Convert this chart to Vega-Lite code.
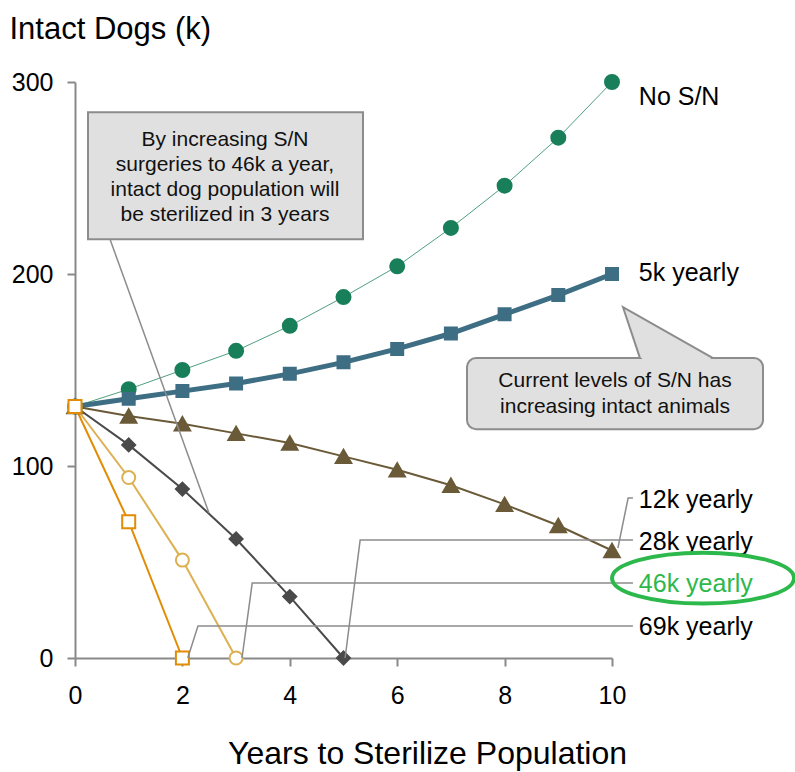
{
  "$schema": "https://vega.github.io/schema/vega-lite/v6.json",
  "width": 537,
  "height": 576,
  "autosize": {"type": "none"},
  "padding": {"left": 75, "top": 82, "right": 183, "bottom": 114},
  "background": "white",
  "config": {"view": {"stroke": null}, "font": "Liberation Sans"},
  "datasets": {
    "series": [
      {"s": "No S/N", "x": 0, "y": 131}, {"s": "No S/N", "x": 1, "y": 140}, {"s": "No S/N", "x": 2, "y": 150}, {"s": "No S/N", "x": 3, "y": 160}, {"s": "No S/N", "x": 4, "y": 173}, {"s": "No S/N", "x": 5, "y": 188}, {"s": "No S/N", "x": 6, "y": 204}, {"s": "No S/N", "x": 7, "y": 224}, {"s": "No S/N", "x": 8, "y": 246}, {"s": "No S/N", "x": 9, "y": 271}, {"s": "No S/N", "x": 10, "y": 300},
      {"s": "5k yearly", "x": 0, "y": 131}, {"s": "5k yearly", "x": 1, "y": 135}, {"s": "5k yearly", "x": 2, "y": 139}, {"s": "5k yearly", "x": 3, "y": 143}, {"s": "5k yearly", "x": 4, "y": 148}, {"s": "5k yearly", "x": 5, "y": 154}, {"s": "5k yearly", "x": 6, "y": 161}, {"s": "5k yearly", "x": 7, "y": 169}, {"s": "5k yearly", "x": 8, "y": 179}, {"s": "5k yearly", "x": 9, "y": 189}, {"s": "5k yearly", "x": 10, "y": 200},
      {"s": "12k yearly", "x": 0, "y": 131}, {"s": "12k yearly", "x": 1, "y": 126}, {"s": "12k yearly", "x": 2, "y": 122}, {"s": "12k yearly", "x": 3, "y": 117}, {"s": "12k yearly", "x": 4, "y": 112}, {"s": "12k yearly", "x": 5, "y": 105}, {"s": "12k yearly", "x": 6, "y": 98}, {"s": "12k yearly", "x": 7, "y": 90}, {"s": "12k yearly", "x": 8, "y": 80}, {"s": "12k yearly", "x": 9, "y": 69}, {"s": "12k yearly", "x": 10, "y": 56},
      {"s": "28k yearly", "x": 0, "y": 131}, {"s": "28k yearly", "x": 1, "y": 111}, {"s": "28k yearly", "x": 2, "y": 88}, {"s": "28k yearly", "x": 3, "y": 62}, {"s": "28k yearly", "x": 4, "y": 32}, {"s": "28k yearly", "x": 5, "y": 0},
      {"s": "46k yearly", "x": 0, "y": 131}, {"s": "46k yearly", "x": 1, "y": 94}, {"s": "46k yearly", "x": 2, "y": 51}, {"s": "46k yearly", "x": 3, "y": 0},
      {"s": "69k yearly", "x": 0, "y": 131}, {"s": "69k yearly", "x": 1, "y": 71}, {"s": "69k yearly", "x": 2, "y": 0}
    ],
    "labels": [
      {"t": "No S/N", "x": 10.5, "y": 292},
      {"t": "5k yearly", "x": 10.5, "y": 200.4},
      {"t": "12k yearly", "x": 10.5, "y": 82.2},
      {"t": "28k yearly", "x": 10.5, "y": 60.4},
      {"t": "46k yearly", "x": 10.5, "y": 38.5},
      {"t": "69k yearly", "x": 10.5, "y": 16.1}
    ],
    "leaders": [
      {"g": "12k", "o": 0, "x": 10.11, "y": 57.3}, {"g": "12k", "o": 1, "x": 10.3, "y": 83.3}, {"g": "12k", "o": 2, "x": 10.39, "y": 83.3},
      {"g": "28k", "o": 0, "x": 5.03, "y": 0}, {"g": "28k", "o": 1, "x": 5.31, "y": 61.4}, {"g": "28k", "o": 2, "x": 10.39, "y": 61.4},
      {"g": "46k", "o": 0, "x": 3.11, "y": 0}, {"g": "46k", "o": 1, "x": 3.3, "y": 39.0}, {"g": "46k", "o": 2, "x": 10.39, "y": 39.0},
      {"g": "69k", "o": 0, "x": 2.1, "y": 0}, {"g": "69k", "o": 1, "x": 2.29, "y": 16.7}, {"g": "69k", "o": 2, "x": 10.39, "y": 16.7},
      {"g": "callout", "o": 0, "x": 0.652, "y": 218.1}, {"g": "callout", "o": 1, "x": 2.495, "y": 75.5}
    ],
    "box1": [{"x": 0.242, "x2": 5.363, "y": 284.2, "y2": 218.1}],
    "box2": [{"x": 7.3, "x2": 12.812, "y": 156.2, "y2": 119.2}],
    "ptrfill": [
      {"x": 10.205, "y": 182.7, "y2": 182.7},
      {"x": 10.521, "y": 177.7, "y2": 156.2},
      {"x": 11.881, "y": 156.2, "y2": 156.2}
    ],
    "ptredge": [
      {"o": 0, "x": 10.521, "y": 156.2},
      {"o": 1, "x": 10.205, "y": 182.7},
      {"o": 2, "x": 11.881, "y": 156.2}
    ],
    "ptrcover": [{"x": 10.56, "x2": 11.84, "y": 156.2}],
    "boxtext": [
      {"t": "By increasing S/N", "x": 2.793, "y": 269.6},
      {"t": "surgeries to 46k a year,", "x": 2.793, "y": 256.6},
      {"t": "intact dog population will", "x": 2.793, "y": 243.6},
      {"t": "be sterilized in 3 years", "x": 2.793, "y": 230.6},
      {"t": "Current levels of S/N has", "x": 10.056, "y": 144.2},
      {"t": "increasing intact animals", "x": 10.056, "y": 130.7}
    ],
    "ellipse": [{"x": 11.695, "y": 41.6}]
  },
  "layer": [
    {
      "data": {"name": "series"},
      "mark": {"type": "line"},
      "encoding": {
        "x": {"field": "x", "type": "quantitative", "scale": {"domain": [0, 10], "nice": false, "zero": false},
          "axis": {"values": [0, 2, 4, 6, 8, 10], "grid": false, "domainColor": "#898989", "domainWidth": 2, "tickColor": "#898989", "tickWidth": 2, "tickSize": 8, "labelFontSize": 25, "labelColor": "black", "labelFont": "Liberation Sans", "labelPadding": 17, "labelFlush": false, "labelOverlap": false,
            "title": "Years to Sterilize Population", "titleFontSize": 32, "titleFont": "Liberation Sans", "titleFontWeight": "normal", "titleColor": "black", "titleX": 352, "titleY": 105, "titleAlign": "center", "titleBaseline": "alphabetic"}},
        "y": {"field": "y", "type": "quantitative", "scale": {"domain": [0, 300], "nice": false, "zero": false},
          "axis": {"values": [0, 100, 200, 300], "grid": false, "domainColor": "#898989", "domainWidth": 2, "tickColor": "#898989", "tickWidth": 2, "tickSize": 8, "labelFontSize": 25, "labelColor": "black", "labelFont": "Liberation Sans", "labelPadding": 14, "labelOverlap": false,
            "title": "Intact Dogs (k)", "titleFontSize": 31, "titleFont": "Liberation Sans", "titleFontWeight": "normal", "titleColor": "black", "titleAngle": 0, "titleX": -66, "titleY": -44, "titleAlign": "left", "titleBaseline": "alphabetic"}},
        "color": {"field": "s", "type": "nominal", "legend": null,
          "scale": {"type": "ordinal", "domain": ["No S/N", "5k yearly", "12k yearly", "28k yearly", "46k yearly", "69k yearly"], "range": ["#4f9f80", "#3e6e84", "#6a5a38", "#4a4a4a", "#ddb052", "#e28c05"]}},
        "strokeWidth": {"field": "s", "type": "nominal", "legend": null,
          "scale": {"type": "ordinal", "domain": ["No S/N", "5k yearly", "12k yearly", "28k yearly", "46k yearly", "69k yearly"], "range": [1, 5, 2, 2, 2, 2]}}
      }
    },
    {
      "data": {"name": "series"},
      "mark": {"type": "point", "filled": true, "strokeWidth": 2, "opacity": 1},
      "encoding": {
        "x": {"field": "x", "type": "quantitative", "scale": {"domain": [0, 10], "nice": false, "zero": false}},
        "y": {"field": "y", "type": "quantitative", "scale": {"domain": [0, 300], "nice": false, "zero": false}},
        "shape": {"field": "s", "type": "nominal", "legend": null,
          "scale": {"type": "ordinal", "domain": ["No S/N", "5k yearly", "12k yearly", "28k yearly", "46k yearly", "69k yearly"], "range": ["circle", "square", "triangle-up", "diamond", "circle", "square"]}},
        "size": {"field": "s", "type": "nominal", "legend": null,
          "scale": {"type": "ordinal", "domain": ["No S/N", "5k yearly", "12k yearly", "28k yearly", "46k yearly", "69k yearly"], "range": [196, 144, 240, 169, 169, 169]}},
        "fill": {"field": "s", "type": "nominal", "legend": null,
          "scale": {"type": "ordinal", "domain": ["No S/N", "5k yearly", "12k yearly", "28k yearly", "46k yearly", "69k yearly"], "range": ["#187f5a", "#3e6e84", "#6a5a38", "#4a4a4a", "#ffffff", "#ffffff"]}},
        "stroke": {"field": "s", "type": "nominal", "legend": null,
          "scale": {"type": "ordinal", "domain": ["No S/N", "5k yearly", "12k yearly", "28k yearly", "46k yearly", "69k yearly"], "range": ["#187f5a", "#3e6e84", "#6a5a38", "#4a4a4a", "#ddb052", "#e28c05"]}}
      }
    },
    {
      "data": {"name": "leaders"},
      "mark": {"type": "line", "color": "#8c8c8c", "strokeWidth": 1.5},
      "encoding": {
        "x": {"field": "x", "type": "quantitative", "scale": {"domain": [0, 10], "nice": false, "zero": false}},
        "y": {"field": "y", "type": "quantitative", "scale": {"domain": [0, 300], "nice": false, "zero": false}},
        "detail": {"field": "g", "type": "nominal"},
        "order": {"field": "o", "type": "quantitative"}
      }
    },
    {
      "data": {"name": "box1"},
      "mark": {"type": "rect", "fill": "#e0e0e0", "stroke": "#8c8c8c", "strokeWidth": 2},
      "encoding": {
        "x": {"field": "x", "type": "quantitative", "scale": {"domain": [0, 10], "nice": false, "zero": false}},
        "x2": {"field": "x2"},
        "y": {"field": "y", "type": "quantitative", "scale": {"domain": [0, 300], "nice": false, "zero": false}},
        "y2": {"field": "y2"}
      }
    },
    {
      "data": {"name": "box2"},
      "mark": {"type": "rect", "fill": "#e0e0e0", "stroke": "#8c8c8c", "strokeWidth": 2, "cornerRadius": 9},
      "encoding": {
        "x": {"field": "x", "type": "quantitative", "scale": {"domain": [0, 10], "nice": false, "zero": false}},
        "x2": {"field": "x2"},
        "y": {"field": "y", "type": "quantitative", "scale": {"domain": [0, 300], "nice": false, "zero": false}},
        "y2": {"field": "y2"}
      }
    },
    {
      "data": {"name": "ptrfill"},
      "mark": {"type": "area", "fill": "#e0e0e0", "orient": "vertical"},
      "encoding": {
        "x": {"field": "x", "type": "quantitative", "scale": {"domain": [0, 10], "nice": false, "zero": false}},
        "y": {"field": "y", "type": "quantitative", "scale": {"domain": [0, 300], "nice": false, "zero": false}},
        "y2": {"field": "y2"}
      }
    },
    {
      "data": {"name": "ptrcover"},
      "mark": {"type": "rule", "color": "#e0e0e0", "strokeWidth": 3.5},
      "encoding": {
        "x": {"field": "x", "type": "quantitative", "scale": {"domain": [0, 10], "nice": false, "zero": false}},
        "x2": {"field": "x2"},
        "y": {"field": "y", "type": "quantitative", "scale": {"domain": [0, 300], "nice": false, "zero": false}}
      }
    },
    {
      "data": {"name": "ptredge"},
      "mark": {"type": "line", "color": "#8c8c8c", "strokeWidth": 2},
      "encoding": {
        "x": {"field": "x", "type": "quantitative", "scale": {"domain": [0, 10], "nice": false, "zero": false}},
        "y": {"field": "y", "type": "quantitative", "scale": {"domain": [0, 300], "nice": false, "zero": false}},
        "order": {"field": "o", "type": "quantitative"}
      }
    },
    {
      "data": {"name": "boxtext"},
      "mark": {"type": "text", "fontSize": 21, "font": "Liberation Sans", "color": "#111111", "align": "center", "baseline": "middle"},
      "encoding": {
        "x": {"field": "x", "type": "quantitative", "scale": {"domain": [0, 10], "nice": false, "zero": false}},
        "y": {"field": "y", "type": "quantitative", "scale": {"domain": [0, 300], "nice": false, "zero": false}},
        "text": {"field": "t"}
      }
    },
    {
      "data": {"name": "labels"},
      "mark": {"type": "text", "fontSize": 25, "font": "Liberation Sans", "align": "left", "baseline": "middle"},
      "encoding": {
        "x": {"field": "x", "type": "quantitative", "scale": {"domain": [0, 10], "nice": false, "zero": false}},
        "y": {"field": "y", "type": "quantitative", "scale": {"domain": [0, 300], "nice": false, "zero": false}},
        "text": {"field": "t"},
        "color": {"condition": {"test": "datum.t === '46k yearly'", "value": "#2db84c"}, "value": "#000000"}
      }
    },
    {
      "data": {"name": "ellipse"},
      "mark": {"type": "point", "filled": false, "stroke": "#2db84c", "strokeWidth": 4, "opacity": 1, "size": 33124,
        "shape": "M -1 0 A 1 0.28 0 1 1 1 0 A 1 0.28 0 1 1 -1 0 Z"},
      "encoding": {
        "x": {"field": "x", "type": "quantitative", "scale": {"domain": [0, 10], "nice": false, "zero": false}},
        "y": {"field": "y", "type": "quantitative", "scale": {"domain": [0, 300], "nice": false, "zero": false}}
      }
    }
  ]
}
